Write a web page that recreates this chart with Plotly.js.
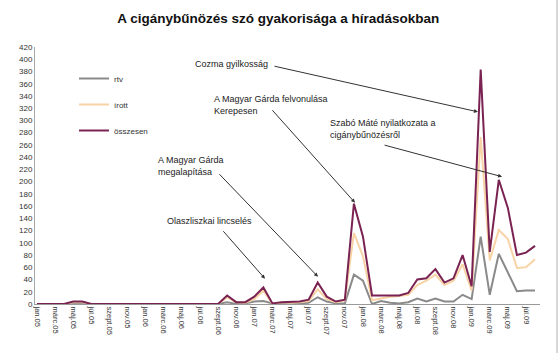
<!DOCTYPE html>
<html>
<head>
<meta charset="utf-8">
<script src="https://cdn.plot.ly/plotly-3.0.1.min.js"></script>
<style>html,body{margin:0;padding:0;background:#fff;}#chart{width:560px;height:353px;}</style>
</head>
<body>
<div id="chart"></div>
<script>
// Months (jan.05 - aug.09)
const months = [
 "jan.05","febr.05","márc.05","ápr.05","máj.05","jún.05","júl.05","aug.05","szept.05","okt.05","nov.05","dec.05",
 "jan.06","febr.06","márc.06","ápr.06","máj.06","jún.06","júl.06","aug.06","szept.06","okt.06","nov.06","dec.06",
 "jan.07","febr.07","márc.07","ápr.07","máj.07","jún.07","júl.07","aug.07","szept.07","okt.07","nov.07","dec.07",
 "jan.08","febr.08","márc.08","ápr.08","máj.08","jún.08","júl.08","aug.08","szept.08","okt.08","nov.08","dec.08",
 "jan.09","febr.09","márc.09","ápr.09","máj.09","jún.09","júl.09","aug.09"
];
const tickLabels = ["jan.05","márc.05","máj.05","júl.05","szept.05","nov.05","jan.06","márc.06","máj.06","júl.06","szept.06","nov.06",
 "jan.07","márc.07","máj.07","júl.07","szept.07","nov.07","jan.08","márc.08","máj.08","júl.08","szept.08","nov.08","jan.09","márc.09","máj.09","júl.09"];

const rtv = [
 0,0,0,0,1,1,0,0,0,0,0,0,
 0,0,0,0,0,0,0,0,0,3,0,1,
 4,5,1,0,1,1,2,11,4,1,1,48,
 38,0,5,2,1,3,9,4,9,4,4,15,
 8,110,15,82,51,21,22,22
];
const irott = [
 0,0,0,0,3,3,0,0,0,0,0,0,
 1,1,0,0,0,0,1,1,0,11,3,2,
 8,22,0,3,2,3,5,24,8,3,6,116,
 78,6,9,12,13,15,31,38,48,31,38,65,
 22,273,71,121,106,59,60,73
];
const osszesen = [
 0,0,0,0,4,4,0,0,0,0,0,0,
 1,1,0,0,0,0,1,1,0,14,3,3,
 12,27,1,3,3,4,7,35,12,4,7,164,
 110,14,14,14,14,18,40,42,57,35,42,80,
 29,383,85,203,157,80,84,95
];

const FONT = "Arial, 'Liberation Sans', sans-serif";

const traces = [
 {name:"rtv", x:months, y:rtv, type:"scatter", mode:"lines", line:{color:"#8a8a8a", width:2}, legendgroup:"a"},
 {name:"írott", x:months, y:irott, type:"scatter", mode:"lines", line:{color:"#f7d3a5", width:2}, legendgroup:"b"},
 {name:"összesen", x:months, y:osszesen, type:"scatter", mode:"lines", line:{color:"#7a2252", width:2}, legendgroup:"c"}
];

function px2paperX(px){return (px-35)/505;}
function px2paperY(py){return (304-py)/257;}

const texts = [
 {t:"Cozma gyilkosság", x:193, y:64},
 {t:"A Magyar Gárda felvonulása<br>Kerepesen", x:212, y:105},
 {t:"Szabó Máté nyilatkozata a<br>cigánybűnözésről", x:328, y:129},
 {t:"A Magyar Gárda<br>megalapítása", x:156, y:165.5},
 {t:"Olaszliszkai lincselés", x:165, y:221}
];
const annotations = texts.map(o=>({
 text:o.t, xref:"paper", yref:"paper", x:px2paperX(o.x), y:px2paperY(o.y),
 xanchor:"left", yanchor:"middle", align:"left", showarrow:false,
 font:{family:FONT, size:9, color:"#222"}
}));
// arrows: head in data coords, tail offset in px
const arrows = [
 {x:48.70, y:314, ax:-205, ay:-46},
 {x:35.12, y:165.5, ax:-84, ay:-94},
 {x:51.36, y:208, ax:-119, ay:-32},
 {x:31.03, y:44.6, ax:-100, ay:-104},
 {x:25.18, y:41.3, ax:-43, ay:-49}
];
arrows.forEach(a=>annotations.push({
 text:"", x:a.x, y:a.y, xref:"x", yref:"y", ax:a.ax, ay:a.ay, showarrow:true,
 arrowhead:2, arrowsize:0.8, arrowwidth:1, arrowcolor:"#333"
}));

const layout = {
 width:560, height:353,
 margin:{l:35, r:20, t:47, b:49},
 paper_bgcolor:"#fff", plot_bgcolor:"#fff",
 font:{family:FONT, color:"#333"},
 title:{text:"<b>A cigánybűnözés szó gyakorisága a híradásokban</b>", font:{family:FONT, size:13.5, color:"#111"},
   x:0.497, xref:"container", y:0.947, yref:"container", xanchor:"center", yanchor:"middle"},
 showlegend:true,
 legend:{x:px2paperX(74), y:px2paperY(64), xanchor:"left", yanchor:"top", bgcolor:"rgba(0,0,0,0)",
   font:{family:FONT, size:8, color:"#333"}, traceorder:"grouped", tracegroupgap:7, itemwidth:30},
 xaxis:{type:"category", range:[-0.22, 55.55], tickmode:"array", tickvals:tickLabels, ticktext:tickLabels,
   tickangle:90, tickfont:{family:FONT, size:7.5, color:"#333"}, showline:true, linecolor:"#9a9a9a", linewidth:1,
   showgrid:false, zeroline:false, ticks:""},
 yaxis:{range:[0,420], dtick:20, tick0:0, tickfont:{family:FONT, size:8, color:"#333"}, showline:true,
   linecolor:"#a8a8a8", linewidth:1, showgrid:false, zeroline:false, ticks:""},
 annotations:annotations,
 shapes:[{type:"line", xref:"paper", yref:"paper", x0:px2paperX(557), x1:px2paperX(557), y0:px2paperY(353), y1:px2paperY(0),
   line:{color:"#b0b0b0", width:1}}]
};

Plotly.newPlot("chart", traces, layout, {displayModeBar:false, staticPlot:true});
</script>
</body>
</html>
